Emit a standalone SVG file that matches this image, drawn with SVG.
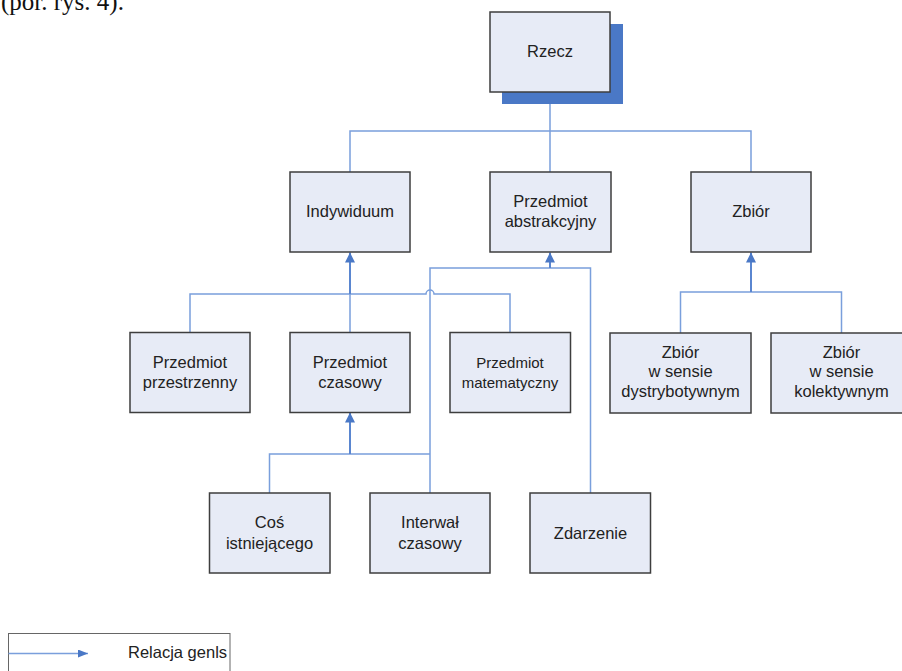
<svg xmlns="http://www.w3.org/2000/svg" width="902" height="671" viewBox="0 0 902 671">
<style>
.box{fill:#e7ebf6;stroke:#3e3e3e;stroke-width:1.5}
.shadow{fill:#4a78c6}
.lbl{font-family:"Liberation Sans",Arial,sans-serif;font-size:16.5px;fill:#222;text-anchor:middle}
.sm{font-size:15px}
.ln{fill:none;stroke:#7a9fdc;stroke-width:1.5}
.ar{fill:none;stroke:#5a86d0;stroke-width:2}
</style>
<defs>
<marker id="ah" markerUnits="userSpaceOnUse" markerWidth="10" markerHeight="10" refX="10" refY="5" orient="auto">
<path d="M0,0 L10,5 L0,10 z" fill="#4a78c6"/>
</marker>
<marker id="ahs" markerUnits="userSpaceOnUse" markerWidth="10" markerHeight="8" refX="10" refY="4" orient="auto">
<path d="M0,0 L10,4 L0,8 z" fill="#4a78c6"/>
</marker>
</defs>
<text x="1" y="10" font-family="Liberation Serif,'Times New Roman',serif" font-size="25" fill="#111">(por. rys. 4).</text>
<g id="connectors">
<path class="ln" d="M550 92 V131 M350 172 V131 H751 V172 M550 131 V172"/>
<path class="ln" d="M190 332 V294 H426 A4 4 0 0 1 434 294 H510 V332 M350 294 V332"/>
<path class="ar" d="M350 294 V252.5" marker-end="url(#ah)"/>
<path class="ln" d="M430 493 V268 H590.5 V493"/>
<path class="ar" d="M550 268 V252.5" marker-end="url(#ah)"/>
<path class="ln" d="M269.5 493 V454 H430"/>
<path class="ar" d="M350 454 V412.5" marker-end="url(#ah)"/>
<path class="ln" d="M680.5 333 V292 H841.5 V333"/>
<path class="ar" d="M751 292 V252.5" marker-end="url(#ah)"/>
</g>
<g id="rzecz"><rect class="shadow" x="502" y="24" width="121" height="80"/><rect class="box" x="490" y="12" width="120" height="80"/><text class="lbl" x="550" y="57">Rzecz</text></g>
<g id="indywiduum"><rect class="box" x="290" y="172" width="120" height="80"/><text class="lbl" x="350" y="217">Indywiduum</text></g>
<g id="przedmiot-abstrakcyjny"><rect class="box" x="490" y="172" width="121" height="80"/><text class="lbl" x="550.5" y="206.5">Przedmiot</text><text class="lbl" x="550.5" y="227">abstrakcyjny</text></g>
<g id="zbior"><rect class="box" x="691" y="172" width="120" height="80"/><text class="lbl" x="751" y="217">Zbiór</text></g>
<g id="przedmiot-przestrzenny"><rect class="box" x="130" y="332.5" width="120" height="80"/><text class="lbl" x="190" y="367.5">Przedmiot</text><text class="lbl" x="190" y="388">przestrzenny</text></g>
<g id="przedmiot-czasowy"><rect class="box" x="290" y="332.5" width="120" height="80"/><text class="lbl" x="350" y="367.5">Przedmiot</text><text class="lbl" x="350" y="388">czasowy</text></g>
<g id="przedmiot-matematyczny"><rect class="box" x="450" y="332.5" width="120.5" height="80"/><text class="lbl sm" x="510" y="367.5">Przedmiot</text><text class="lbl sm" x="510" y="387.5">matematyczny</text></g>
<g id="zbior-dystrybutywny"><rect class="box" x="610" y="333" width="141" height="80"/><text class="lbl" x="680.5" y="357.5">Zbiór</text><text class="lbl" x="680.5" y="377">w sensie</text><text class="lbl" x="680.5" y="397">dystrybotywnym</text></g>
<g id="zbior-kolektywny"><rect class="box" x="771" y="333" width="141" height="80"/><text class="lbl" x="841.5" y="357.5">Zbiór</text><text class="lbl" x="841.5" y="377">w sensie</text><text class="lbl" x="841.5" y="397">kolektywnym</text></g>
<g id="cos-istniejacego"><rect class="box" x="209.5" y="493" width="120.5" height="80"/><text class="lbl" x="269.5" y="528">Coś</text><text class="lbl" x="269.5" y="548.5">istniejącego</text></g>
<g id="interwal-czasowy"><rect class="box" x="370" y="493" width="120" height="80"/><text class="lbl" x="430" y="528">Interwał</text><text class="lbl" x="430" y="548.5">czasowy</text></g>
<g id="zdarzenie"><rect class="box" x="530" y="493" width="120.5" height="80"/><text class="lbl" x="590.5" y="538.5">Zdarzenie</text></g>
<g id="legend">
<rect x="8.5" y="633.5" width="221.5" height="60" fill="none" stroke="#666" stroke-width="1"/>
<path class="ln" d="M8.5 653.5 H88" marker-end="url(#ahs)"/>
<text class="lbl" x="128" y="658" style="text-anchor:start">Relacja genls</text>
</g>
</svg>
